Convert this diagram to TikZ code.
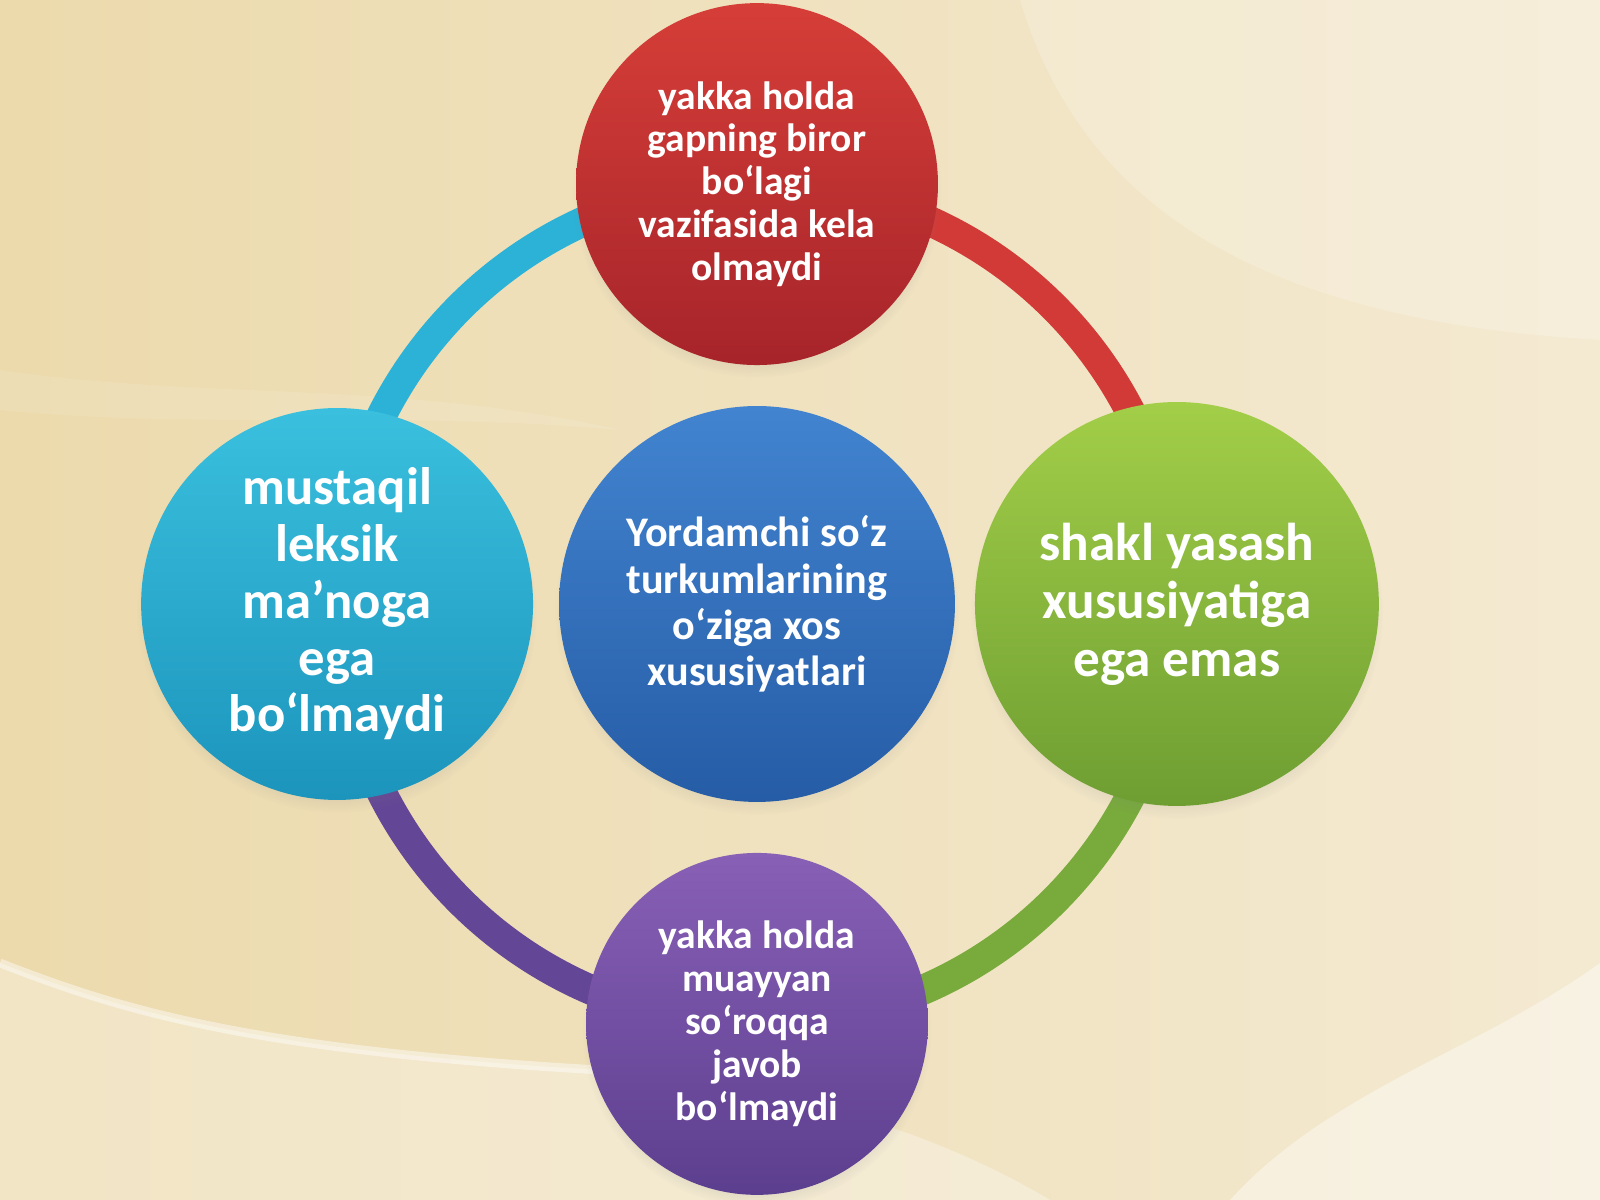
\documentclass[tikz,border=0pt]{standalone}
\usepackage{fontspec}
\setmainfont{Carlito}
\usepackage{tikz}
\usetikzlibrary{positioning, shadows}
\definecolor{bgLeft}{RGB}{236,218,172}
\definecolor{bgRight}{RGB}{244,234,210}
\definecolor{redTop}{RGB}{214,62,56}
\definecolor{redBot}{RGB}{166,36,42}
\definecolor{cyanTop}{RGB}{58,192,222}
\definecolor{cyanBot}{RGB}{28,148,188}
\definecolor{blueTop}{RGB}{66,132,208}
\definecolor{blueBot}{RGB}{38,92,166}
\definecolor{greenTop}{RGB}{162,206,72}
\definecolor{greenBot}{RGB}{110,158,50}
\definecolor{purpleTop}{RGB}{136,96,182}
\definecolor{purpleBot}{RGB}{92,62,142}
\definecolor{ringCyan}{RGB}{44,178,214}
\definecolor{ringRed}{RGB}{210,58,55}
\definecolor{ringGreen}{RGB}{120,170,60}
\definecolor{ringPurple}{RGB}{100,70,150}

\begin{document}
\begin{tikzpicture}[x=0.02cm, y=0.02cm,
  Petal/.style={circle, inner sep=0pt, text=white, align=center,
    circular drop shadow={shadow xshift=0pt, shadow yshift=-5pt, shadow scale=1.02, opacity=0.25}},
  Ring/.style={line width=0.6cm}]
  \useasboundingbox (0,0) rectangle (1600,1200);
  \clip (0,0) rectangle (1600,1200);
  \shade[left color=bgLeft, right color=bgRight] (0,0) rectangle (1600,1200);
  \fill[white, opacity=0.2] (1020,1200) .. controls (1080,1000) and (1250,880) .. (1600,860) -- (1600,1200) -- cycle;
  \fill[white, opacity=0.3] (0,237) .. controls (120,190) and (250,150) .. (600,130)
    .. controls (800,115) and (950,60) .. (1050,0) -- (0,0) -- cycle;
  \draw[white, opacity=0.45, line width=5] (0,237) .. controls (120,190) and (250,150) .. (600,130);
  \fill[white, opacity=0.4] (1600,237) .. controls (1480,150) and (1330,110) .. (1230,0) -- (1600,0) -- cycle;
  \fill[white, opacity=0.1] (0,830) .. controls (200,800) and (400,820) .. (620,770)
    .. controls (400,790) and (200,770) .. (0,790) -- cycle;
  \node [Petal, minimum size=7.92cm, top color=blueTop, bottom color=blueBot,
    font=\fontsize{24}{26.3}\selectfont\bfseries] (hub) at (757,596)
    {Yordamchi so‘z\\turkumlarining\\o‘ziga xos\\xususiyatlari};
  \node [on grid, above=8.4cm of hub] (topC) {};
  \node [on grid, left=8.4cm of hub] (leftC) {};
  \node [on grid, right=8.4cm of hub] (rightC) {};
  \node [on grid, below=8.4cm of hub] (botC) {};
  \draw[Ring, ringCyan] (leftC.center) arc[start angle=180, end angle=90, radius=8.4cm];
  \draw[Ring, ringRed] (topC.center) arc[start angle=90, end angle=0, radius=8.4cm];
  \draw[Ring, ringGreen] (rightC.center) arc[start angle=0, end angle=-90, radius=8.4cm];
  \draw[Ring, ringPurple] (botC.center) arc[start angle=270, end angle=180, radius=8.4cm];
  \node [Petal, minimum size=7.24cm, top color=redTop, bottom color=redBot,
    font=\fontsize{22.5}{24.4}\selectfont\bfseries] (top) at (topC)
    {yakka holda\\gapning biror\\bo‘lagi\\vazifasida kela\\olmaydi};
  \node [Petal, minimum size=7.84cm, top color=cyanTop, bottom color=cyanBot,
    font=\fontsize{30}{32.3}\selectfont\bfseries] (left) at (leftC)
    {mustaqil\\leksik\\ma’noga\\ega\\bo‘lmaydi};
  \node [Petal, minimum size=8.08cm, top color=greenTop, bottom color=greenBot,
    font=\fontsize{30.3}{33}\selectfont\bfseries] (right) at (rightC)
    {shakl yasash\\xususiyatiga\\ega emas};
  \node [Petal, minimum size=6.84cm, top color=purpleTop, bottom color=purpleBot,
    font=\fontsize{22.5}{24.4}\selectfont\bfseries] (bottom) at (botC)
    {yakka holda\\muayyan\\so‘roqqa\\javob\\bo‘lmaydi};
\end{tikzpicture}
\end{document}
